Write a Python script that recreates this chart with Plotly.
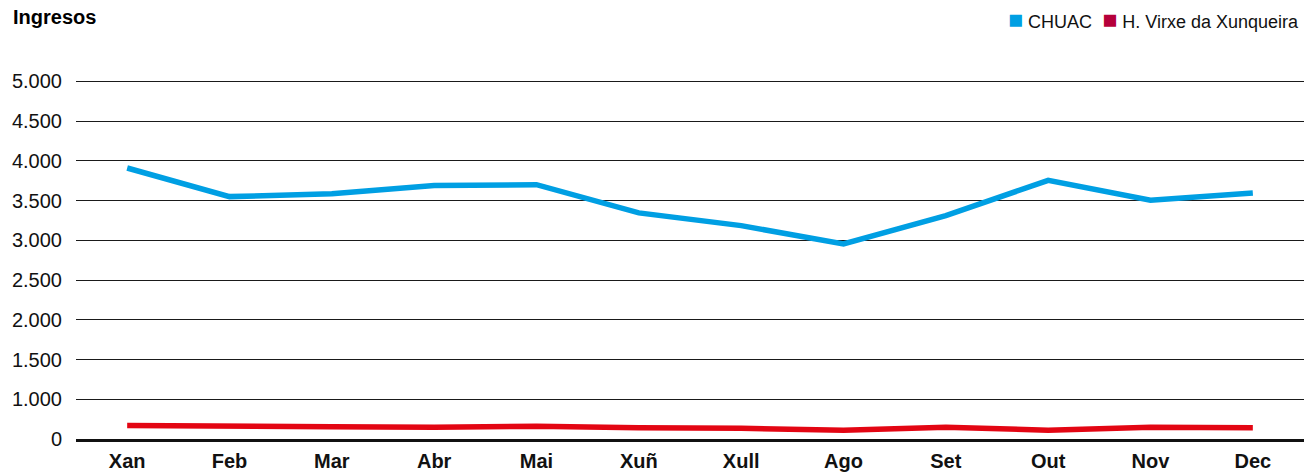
import plotly.graph_objects as go

months = ["Xan", "Feb", "Mar", "Abr", "Mai", "Xuñ", "Xull", "Ago", "Set", "Out", "Nov", "Dec"]
# values in axis units (bottom gridline, labelled "0", sits at 500)
chuac = [3910, 3550, 3585, 3690, 3700, 3345, 3185, 2955, 3310, 3755, 3505, 3595]
xunqueira = [670, 670, 655, 648, 660, 640, 635, 610, 648, 610, 648, 640]
tick_vals = [500, 1000, 1500, 2000, 2500, 3000, 3500, 4000, 4500, 5000]
tick_text = ["0", "1.000", "1.500", "2.000", "2.500", "3.000", "3.500", "4.000", "4.500", "5.000"]
series_names = ["CHUAC", "H. Virxe da Xunqueira"]

BLUE = "#009fe3"
RED = "#e30613"
RED_LEGEND = "#b5003a"
FONT = "Liberation Sans, Arial, sans-serif"

fig = go.Figure()
fig.add_trace(go.Scatter(x=months, y=chuac, mode="lines", line=dict(color=BLUE, width=5.5),
                         showlegend=False, name=series_names[0]))
fig.add_trace(go.Scatter(x=months, y=xunqueira, mode="lines", line=dict(color=RED, width=5.5),
                         showlegend=False, name=series_names[1]))

legend_text = (f"<span style='color:{BLUE};font-size:25px'>■</span> {series_names[0]}  "
               f"<span style='color:{RED_LEGEND};font-size:25px'>■</span> {series_names[1]}")
fig.add_annotation(text=legend_text, xref="paper", yref="paper",
                   x=1 - 3/1228, xanchor="right", y=1 + (79 - 19)/360, yanchor="middle",
                   showarrow=False, font=dict(family=FONT, size=18, color="#111"))

fig.update_layout(
    width=1313, height=476,
    margin=dict(l=76, r=9, t=79, b=37, autoexpand=False),
    paper_bgcolor="white", plot_bgcolor="white",
    showlegend=False,
    font=dict(family=FONT, size=20, color="#111"),
    title=dict(text="<b>Ingresos</b>", font=dict(family=FONT, size=20, color="#000"),
               xref="container", x=13/1313, xanchor="left",
               yref="container", y=1 - 17/476, yanchor="middle"),
    xaxis=dict(type="category", showgrid=False, showline=True, linecolor="#111", linewidth=2.5,
               ticks="", ticklabelstandoff=2,
               tickfont=dict(family=FONT, size=20, color="#111", weight="bold"),
               range=[-0.5, 11.5]),
    yaxis=dict(range=[500, 5030], tickvals=tick_vals, ticktext=tick_text,
               showgrid=True, gridcolor="#1a1a1a", gridwidth=1, zeroline=False,
               ticks="", ticklabelstandoff=13, tickfont=dict(family=FONT, size=20, color="#111")),
)

fig.write_html("out.html", config={"displayModeBar": False},
               post_script="document.body.style.margin='0';document.body.style.overflow='hidden';")
